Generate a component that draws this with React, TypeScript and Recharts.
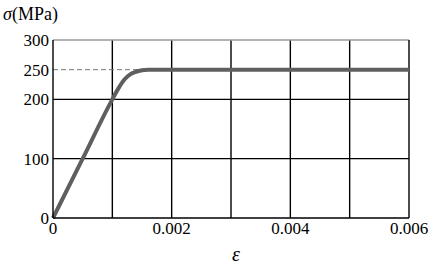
import { LineChart, Line, XAxis, YAxis, CartesianGrid, ReferenceLine } from "recharts"

const strain = [0, 0.0005, 0.001, 0.0011, 0.0012, 0.0013, 0.0014, 0.0015, 0.0016, 0.0017, 0.002, 0.003, 0.004, 0.005, 0.006]
const stress = [0, 100, 200, 218, 233, 242, 246.5, 249, 250, 250, 250, 250, 250, 250, 250]

const xTicks = [0, 0.002, 0.004, 0.006]
const yTicks = [0, 100, 200, 250, 300]
const gridX = [0.001, 0.002, 0.003, 0.004, 0.005]
const gridY = [100, 200]
const yieldStress = 250
const yieldStrain = 0.0016

const data = strain.map((e, i) => ({ e, s: stress[i] }))

const serif = "Liberation Serif"
const tickStyle = { fill: "#000", fontSize: 17, fontFamily: serif }

export default function App() {
  return (
    <div style={{ position: "absolute", left: 0, top: 0, width: 439, height: 268, background: "#fff", fontFamily: serif }}>
      <div style={{ position: "absolute", left: 3, top: 4, fontSize: 18, color: "#000" }}>
        <i>σ</i>(MPa)
      </div>
      <div style={{ position: "absolute", left: 232, top: 243, fontSize: 20, fontStyle: "italic", color: "#000" }}>
        ε
      </div>
      <LineChart width={439} height={268} data={data} margin={{ top: 40, right: 30, bottom: 30, left: 0 }}>
        <CartesianGrid stroke="#000" strokeWidth={1.4} verticalValues={gridX} horizontalValues={gridY} />
        <XAxis
          type="number"
          dataKey="e"
          domain={[0, 0.006]}
          ticks={xTicks}
          tickFormatter={(v) => String(v)}
          tickLine={false}
          tickSize={2}
          tickMargin={2}
          height={20}
          axisLine={{ stroke: "#000", strokeWidth: 1.4 }}
          tick={tickStyle}
          interval={0}
        />
        <YAxis
          type="number"
          domain={[0, 300]}
          ticks={yTicks}
          width={53}
          tickLine={false}
          tickSize={2}
          tickMargin={2}
          axisLine={{ stroke: "#000", strokeWidth: 1.4 }}
          tick={tickStyle}
          interval={0}
        />
        <ReferenceLine y={300} stroke="#9a9a9a" strokeWidth={1.4} />
        <ReferenceLine x={0.006} stroke="#000" strokeWidth={1.4} />
        <ReferenceLine
          segment={[
            { x: 0, y: yieldStress },
            { x: yieldStrain, y: yieldStress },
          ]}
          stroke="#777"
          strokeDasharray="5 3"
          strokeWidth={1}
        />
        <Line
          type="monotone"
          dataKey="s"
          stroke="#5f5f5f"
          strokeWidth={4}
          dot={false}
          isAnimationActive={false}
        />
      </LineChart>
    </div>
  )
}
